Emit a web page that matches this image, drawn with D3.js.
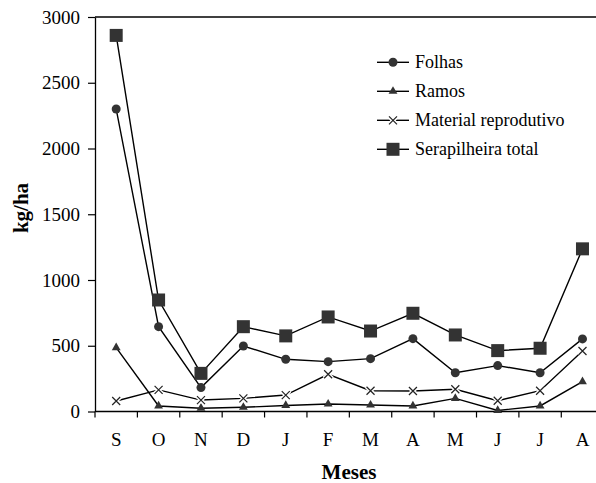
<!DOCTYPE html>
<html>
<head>
<meta charset="utf-8">
<script src="https://cdn.jsdelivr.net/npm/d3@7"></script>
<style>
  body { margin: 0; background: #fff; }
  svg { font-family: "Liberation Serif", "Times New Roman", serif; }
</style>
</head>
<body>
<svg id="chart" width="596" height="483"></svg>
<script>
const meses = ["S", "O", "N", "D", "J", "F", "M", "A", "M", "J", "J", "A"];
const folhas = [2300, 645, 182, 498, 397, 379, 402, 554, 295, 349, 295, 552];
const ramos = [486, 42, 25, 32, 46, 57, 49, 42, 100, 8, 42, 227];
const reprodutivo = [80, 164, 87, 100, 125, 283, 158, 156, 169, 82, 158, 460];
const total = [2860, 848, 290, 645, 575, 719, 612, 747, 582, 463, 481, 1237];
const yTicks = [0, 500, 1000, 1500, 2000, 2500, 3000];
const seriesNames = ["Folhas", "Ramos", "Material reprodutivo", "Serapilheira total"];

const chart = d3.select("#chart");
const margin = { left: 95, top: 17, bottom: 71.5 };
const chart_height = 483;

// each month gets a band, tick marks sit between bands (like Excel)
const x = d3.scaleBand()
            .domain(d3.range(meses.length))
            .range([margin.left, margin.left + 42.39 * meses.length])
            .padding(0);
const y = d3.scaleLinear()
            .domain([0, 3000])
            .range([chart_height - margin.bottom, margin.top]);

const xc = (i) => x(i) + x.bandwidth() / 2;

// top border of plot
chart.append("line")
    .attr("x1", margin.left).attr("x2", 596)
    .attr("y1", y(3000)).attr("y2", y(3000))
    .attr("stroke", "#000").attr("stroke-width", 1.3);

// y axis
let y_axis = d3.axisLeft(y).tickValues(yTicks).tickFormat(d3.format("d"))
                .tickSize(7).tickSizeOuter(0).tickPadding(8);
let gy = chart.append("g").attr("transform", "translate(" + margin.left + ",0)").call(y_axis);
gy.select(".domain").attr("stroke-width", 1.3);
gy.selectAll(".tick line").attr("stroke-width", 1.2);
gy.selectAll("text").attr("font-size", 19).attr("font-family", "Liberation Serif").attr("fill", "#000");

// x axis: labels at band centres, ticks at band edges
let x_axis = d3.axisBottom(x).tickFormat((i) => meses[i]).tickSize(0).tickSizeOuter(0).tickPadding(21);
let gx = chart.append("g").attr("transform", "translate(0," + y(0) + ")").call(x_axis);
gx.select(".domain").attr("d", "M" + margin.left + ",0H596").attr("stroke-width", 1.3);
gx.selectAll("text").attr("font-size", 19).attr("font-family", "Liberation Serif").attr("fill", "#000");
gx.selectAll(".edge")
    .data(d3.range(meses.length))
    .enter().append("line")
        .attr("class", "edge")
        .attr("x1", (d) => x(d)).attr("x2", (d) => x(d))
        .attr("y1", 0).attr("y2", 6)
        .attr("stroke", "#000").attr("stroke-width", 1.2);

// axis titles
chart.append("text")
    .attr("x", 349).attr("y", 479)
    .attr("text-anchor", "middle")
    .attr("font-weight", "bold").attr("font-size", 21)
    .text("Meses");
chart.append("text")
    .attr("transform", "translate(28," + 208 + ") rotate(-90)")
    .attr("text-anchor", "middle")
    .attr("font-weight", "bold").attr("font-size", 21)
    .text("kg/ha");

const line = d3.line().x((d, i) => xc(i)).y((d) => y(d));

const markerFill = "#333";
const drawMarker = (sel, kind) => {
    if (kind == "circle") {
        sel.append("circle").attr("r", 4.5).attr("fill", markerFill);
    } else if (kind == "triangle") {
        sel.append("path").attr("d", d3.symbol().type(d3.symbolTriangle).size(34)()).attr("fill", markerFill);
    } else if (kind == "cross") {
        let p = "M-4,-4L4,4M-4,4L4,-4";
        sel.append("path").attr("d", p).attr("stroke", "#fff").attr("stroke-width", 4);
        sel.append("path").attr("d", p).attr("stroke", "#222").attr("stroke-width", 1.2);
    } else {
        sel.append("rect").attr("x", -6.5).attr("y", -6.5).attr("width", 13).attr("height", 13).attr("fill", markerFill);
    }
}

const series = [
    { name: seriesNames[1], values: ramos, kind: "triangle" },
    { name: seriesNames[2], values: reprodutivo, kind: "cross" },
    { name: seriesNames[0], values: folhas, kind: "circle" },
    { name: seriesNames[3], values: total, kind: "square" }
];

series.forEach((s) => {
    chart.append("path")
        .datum(s.values)
        .attr("d", line)
        .attr("fill", "none")
        .attr("stroke", "#000")
        .attr("stroke-width", 1.4);
});
series.forEach((s) => {
    chart.append("g").selectAll("g")
        .data(s.values)
        .enter().append("g")
            .attr("transform", (d, i) => "translate(" + xc(i) + "," + y(d) + ")")
            .each(function() { drawMarker(d3.select(this), s.kind); });
});

// legend
const legendKinds = ["circle", "triangle", "cross", "square"];
let legend = chart.selectAll(".legend")
    .data(seriesNames)
    .enter().append("g")
    .attr("class", "legend")
    .attr("transform", (d, i) => "translate(393," + (62.3 + i * 29) + ")");
legend.append("line")
    .attr("x1", -16).attr("x2", 16)
    .attr("stroke", "#000").attr("stroke-width", 1.4);
legend.each(function(d, i) { drawMarker(d3.select(this), legendKinds[i]); });
legend.append("text")
    .attr("x", 22)
    .attr("dy", ".33em")
    .attr("font-size", 18)
    .text((d) => d);
</script>
</body>
</html>
